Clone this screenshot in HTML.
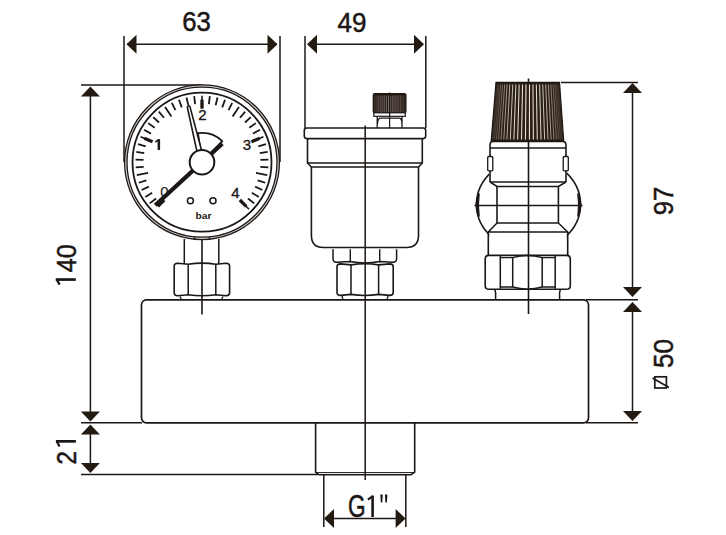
<!DOCTYPE html><html><head><meta charset="utf-8"><style>html,body{margin:0;padding:0;background:#fff;width:726px;height:535px;overflow:hidden}svg{display:block}</style></head><body><svg width="726" height="535" viewBox="0 0 726 535"><rect width="726" height="535" fill="#fff"/><line x1="124" y1="36" x2="124" y2="162" stroke="#1c1714" stroke-width="1.5"/><line x1="280" y1="36" x2="280" y2="162" stroke="#1c1714" stroke-width="1.5"/><line x1="127" y1="44.3" x2="277" y2="44.3" stroke="#1c1714" stroke-width="1.5"/><polygon points="126.5,44.3 136.5,34.8 136.5,53.8" fill="#231a12"/><polygon points="277.5,44.3 267.5,34.8 267.5,53.8" fill="#231a12"/><line x1="305" y1="36" x2="305" y2="128" stroke="#1c1714" stroke-width="1.5"/><line x1="425.8" y1="36" x2="425.8" y2="128" stroke="#1c1714" stroke-width="1.5"/><line x1="308" y1="44.3" x2="423" y2="44.3" stroke="#1c1714" stroke-width="1.5"/><polygon points="307.0,44.3 317.0,34.8 317.0,53.8" fill="#231a12"/><polygon points="424.0,44.3 414.0,34.8 414.0,53.8" fill="#231a12"/><line x1="81" y1="85" x2="202" y2="85" stroke="#1c1714" stroke-width="1.5"/><line x1="90.4" y1="90" x2="90.4" y2="418" stroke="#1c1714" stroke-width="1.5"/><polygon points="90.4,86.5 80.9,96.5 99.9,96.5" fill="#231a12"/><polygon points="90.4,421.5 80.9,411.5 99.9,411.5" fill="#231a12"/><line x1="81" y1="422.8" x2="142" y2="422.8" stroke="#1c1714" stroke-width="1.5"/><line x1="81" y1="474.6" x2="318" y2="474.6" stroke="#1c1714" stroke-width="1.5"/><line x1="90.4" y1="430" x2="90.4" y2="468" stroke="#1c1714" stroke-width="1.5"/><polygon points="90.4,424.5 80.9,434.5 99.9,434.5" fill="#231a12"/><polygon points="90.4,473.0 80.9,463.0 99.9,463.0" fill="#231a12"/><line x1="561" y1="82.5" x2="638" y2="82.5" stroke="#1c1714" stroke-width="1.5"/><line x1="632.5" y1="88" x2="632.5" y2="292" stroke="#1c1714" stroke-width="1.5"/><polygon points="632.5,83.0 623.0,93.0 642.0,93.0" fill="#231a12"/><polygon points="632.5,297.0 623.0,287.0 642.0,287.0" fill="#231a12"/><line x1="586" y1="299.7" x2="638" y2="299.7" stroke="#1c1714" stroke-width="1.5"/><line x1="586" y1="422.8" x2="638" y2="422.8" stroke="#1c1714" stroke-width="1.5"/><line x1="632.5" y1="306" x2="632.5" y2="416" stroke="#1c1714" stroke-width="1.5"/><polygon points="632.5,302.0 623.0,312.0 642.0,312.0" fill="#231a12"/><polygon points="632.5,421.0 623.0,411.0 642.0,411.0" fill="#231a12"/><line x1="323.8" y1="475" x2="323.8" y2="527" stroke="#1c1714" stroke-width="1.5"/><line x1="405.8" y1="475" x2="405.8" y2="527" stroke="#1c1714" stroke-width="1.5"/><line x1="330" y1="518.6" x2="400" y2="518.6" stroke="#1c1714" stroke-width="1.5"/><polygon points="324.0,518.6 334.0,509.1 334.0,528.1" fill="#231a12"/><polygon points="405.6,518.6 395.6,509.1 395.6,528.1" fill="#231a12"/><rect x="141.5" y="299.8" width="447" height="123" rx="5" fill="none" stroke="#1c1714" stroke-width="1.7"/><path d="M315.6,422.8 V472 L319,474.8 H411 L414.7,472 V422.8" fill="none" stroke="#1c1714" stroke-width="1.6"/><line x1="316" y1="472.6" x2="414" y2="472.6" stroke="#1c1714" stroke-width="1.0"/><circle cx="202" cy="162.2" r="76.2" fill="none" stroke="#d8d4d0" stroke-width="2.2"/><circle cx="202" cy="162.2" r="77.4" fill="none" stroke="#1c1714" stroke-width="1.3"/><circle cx="202" cy="162.2" r="75.0" fill="none" stroke="#1c1714" stroke-width="1.3"/><circle cx="202" cy="162.2" r="69.5" fill="#fff" stroke="#1c1714" stroke-width="1.8"/><line x1="157.81" y1="206.39" x2="164.17" y2="200.03" stroke="#1c1714" stroke-width="3.3"/><line x1="149.78" y1="203.37" x2="156.06" y2="198.42" stroke="#1c1714" stroke-width="1.8"/><line x1="145.30" y1="196.95" x2="152.12" y2="192.77" stroke="#1c1714" stroke-width="1.8"/><line x1="141.61" y1="190.04" x2="148.87" y2="186.69" stroke="#1c1714" stroke-width="1.8"/><line x1="138.75" y1="182.75" x2="146.36" y2="180.28" stroke="#1c1714" stroke-width="1.8"/><line x1="136.78" y1="175.17" x2="148.06" y2="172.93" stroke="#1c1714" stroke-width="1.8"/><line x1="135.70" y1="167.42" x2="143.68" y2="166.79" stroke="#1c1714" stroke-width="1.8"/><line x1="135.55" y1="159.59" x2="143.55" y2="159.90" stroke="#1c1714" stroke-width="1.8"/><line x1="136.32" y1="151.80" x2="144.22" y2="153.05" stroke="#1c1714" stroke-width="1.8"/><line x1="138.00" y1="144.15" x2="145.70" y2="146.32" stroke="#1c1714" stroke-width="1.8"/><line x1="140.56" y1="136.75" x2="146.57" y2="139.24" stroke="#1c1714" stroke-width="1.6"/><line x1="144.26" y1="138.28" x2="152.57" y2="141.73" stroke="#1c1714" stroke-width="3.3"/><line x1="143.98" y1="129.71" x2="150.96" y2="133.62" stroke="#1c1714" stroke-width="1.8"/><line x1="148.20" y1="123.11" x2="154.67" y2="127.81" stroke="#1c1714" stroke-width="1.8"/><line x1="153.17" y1="117.06" x2="159.04" y2="122.49" stroke="#1c1714" stroke-width="1.8"/><line x1="158.81" y1="111.63" x2="164.01" y2="117.72" stroke="#1c1714" stroke-width="1.8"/><line x1="165.05" y1="106.91" x2="171.44" y2="116.47" stroke="#1c1714" stroke-width="1.8"/><line x1="171.81" y1="102.95" x2="175.44" y2="110.08" stroke="#1c1714" stroke-width="1.8"/><line x1="178.98" y1="99.81" x2="181.75" y2="107.32" stroke="#1c1714" stroke-width="1.8"/><line x1="186.48" y1="97.54" x2="188.34" y2="105.32" stroke="#1c1714" stroke-width="1.8"/><line x1="194.18" y1="96.16" x2="195.12" y2="104.11" stroke="#1c1714" stroke-width="1.8"/><line x1="202.00" y1="95.70" x2="202.00" y2="102.20" stroke="#1c1714" stroke-width="1.6"/><line x1="202.00" y1="99.70" x2="202.00" y2="108.70" stroke="#1c1714" stroke-width="3.3"/><line x1="209.82" y1="96.16" x2="208.88" y2="104.11" stroke="#1c1714" stroke-width="1.8"/><line x1="217.52" y1="97.54" x2="215.66" y2="105.32" stroke="#1c1714" stroke-width="1.8"/><line x1="225.02" y1="99.81" x2="222.25" y2="107.32" stroke="#1c1714" stroke-width="1.8"/><line x1="232.19" y1="102.95" x2="228.56" y2="110.08" stroke="#1c1714" stroke-width="1.8"/><line x1="238.95" y1="106.91" x2="232.56" y2="116.47" stroke="#1c1714" stroke-width="1.8"/><line x1="245.19" y1="111.63" x2="239.99" y2="117.72" stroke="#1c1714" stroke-width="1.8"/><line x1="250.83" y1="117.06" x2="244.96" y2="122.49" stroke="#1c1714" stroke-width="1.8"/><line x1="255.80" y1="123.11" x2="249.33" y2="127.81" stroke="#1c1714" stroke-width="1.8"/><line x1="260.02" y1="129.71" x2="253.04" y2="133.62" stroke="#1c1714" stroke-width="1.8"/><line x1="263.44" y1="136.75" x2="257.43" y2="139.24" stroke="#1c1714" stroke-width="1.6"/><line x1="259.74" y1="138.28" x2="251.43" y2="141.73" stroke="#1c1714" stroke-width="3.3"/><line x1="266.00" y1="144.15" x2="258.30" y2="146.32" stroke="#1c1714" stroke-width="1.8"/><line x1="267.68" y1="151.80" x2="259.78" y2="153.05" stroke="#1c1714" stroke-width="1.8"/><line x1="268.45" y1="159.59" x2="260.45" y2="159.90" stroke="#1c1714" stroke-width="1.8"/><line x1="268.30" y1="167.42" x2="260.32" y2="166.79" stroke="#1c1714" stroke-width="1.8"/><line x1="267.22" y1="175.17" x2="255.94" y2="172.93" stroke="#1c1714" stroke-width="1.8"/><line x1="265.25" y1="182.75" x2="257.64" y2="180.28" stroke="#1c1714" stroke-width="1.8"/><line x1="262.39" y1="190.04" x2="255.13" y2="186.69" stroke="#1c1714" stroke-width="1.8"/><line x1="258.70" y1="196.95" x2="251.88" y2="192.77" stroke="#1c1714" stroke-width="1.8"/><line x1="254.22" y1="203.37" x2="247.94" y2="198.42" stroke="#1c1714" stroke-width="1.8"/><line x1="249.02" y1="209.22" x2="244.43" y2="204.63" stroke="#1c1714" stroke-width="1.6"/><line x1="246.19" y1="206.39" x2="239.83" y2="200.03" stroke="#1c1714" stroke-width="3.3"/><path d="M157.6,139.2 H160.1 V149.9 H157.6 Z" fill="#1c1714"/><path d="M158.8,139.8 L155.3,142" stroke="#1c1714" stroke-width="1.6"/><text x="164.5" y="197" font-size="15" text-anchor="middle" fill="#1c1714" stroke="#1c1714" stroke-width="0.1" font-family="Liberation Sans, sans-serif">0</text><text x="202.5" y="120.1" font-size="15" text-anchor="middle" fill="#1c1714" stroke="#1c1714" stroke-width="0.35" font-family="Liberation Sans, sans-serif">2</text><text x="246.8" y="149.8" font-size="15" text-anchor="middle" fill="#1c1714" stroke="#1c1714" stroke-width="0.35" font-family="Liberation Sans, sans-serif">3</text><text x="235.5" y="197.5" font-size="15" text-anchor="middle" fill="#1c1714" stroke="#1c1714" stroke-width="0.35" font-family="Liberation Sans, sans-serif">4</text><g transform="translate(203.5,218.8) scale(1.08,1)"><text x="0" y="0" font-size="9.5" font-weight="bold" text-anchor="middle" fill="#1c1714" font-family="Liberation Sans, sans-serif">bar</text></g><path d="M194.7,236.8 V239.2 M209.3,236.8 V239.2" stroke="#1c1714" stroke-width="1.1"/><circle cx="190.4" cy="200.8" r="3" fill="none" stroke="#1c1714" stroke-width="1.5"/><circle cx="213" cy="200.8" r="3" fill="none" stroke="#1c1714" stroke-width="1.5"/><path d="M202,162.2 L198.02,133.17 A29.3,29.3 0 0 1 222.28,141.05 Z" fill="#fff" stroke="#1c1714" stroke-width="1.8" stroke-linejoin="round"/><line x1="222.24" y1="143.59" x2="155.26" y2="205.18" stroke="#1c1714" stroke-width="4.2"/><path d="M197.20,152.56 L187.39,107.52 A1.35,1.35 0 0 1 190.01,106.88 L201.86,151.44 Z" fill="#fff" stroke="#1c1714" stroke-width="1.6"/><circle cx="202" cy="162.2" r="12.3" fill="#fff" stroke="#1c1714" stroke-width="2"/><line x1="184.3" y1="239" x2="184.3" y2="264" stroke="#1c1714" stroke-width="1.5"/><line x1="218.8" y1="239" x2="218.8" y2="264" stroke="#1c1714" stroke-width="1.5"/><path d="M174.2,266.1 Q174.2,263.20000000000005 177.7,263.20000000000005 L188.2,264.20000000000005 Q202.0,262.00000000000006 215.8,264.20000000000005 L226.1,263.20000000000005 Q229.6,263.20000000000005 229.6,266.1 V292.8 Q229.6,295.7 226.1,295.7 L215.8,294.7 Q202.0,296.9 188.2,294.7 L177.7,295.7 Q174.2,295.7 174.2,292.8 Z" fill="#fff" stroke="#1c1714" stroke-width="1.6"/><path d="M188.2,264.20000000000005 V294.7 M215.8,264.20000000000005 V294.7" stroke="#1c1714" stroke-width="1.5"/><path d="M180,296.5 L181.5,299.7 M223,296.5 L221.5,299.7" stroke="#1c1714" stroke-width="1.3"/><line x1="202" y1="239" x2="202" y2="314.5" stroke="#1c1714" stroke-width="1.6"/><rect x="373.3" y="93.7" width="32.6" height="19.3" rx="1.5" fill="#261b14" stroke="#1c1714" stroke-width="1.3"/><line x1="374.14" y1="95.5" x2="374.14" y2="112" stroke="#e8e0d8" stroke-opacity="0.14" stroke-width="0.15"/><line x1="374.45" y1="95.5" x2="374.45" y2="112" stroke="#e8e0d8" stroke-opacity="0.22" stroke-width="0.15"/><line x1="375.08" y1="95.5" x2="375.08" y2="112" stroke="#e8e0d8" stroke-opacity="0.29" stroke-width="0.24"/><line x1="376.00" y1="95.5" x2="376.00" y2="112" stroke="#e8e0d8" stroke-opacity="0.36" stroke-width="0.34"/><line x1="377.19" y1="95.5" x2="377.19" y2="112" stroke="#e8e0d8" stroke-opacity="0.43" stroke-width="0.42"/><line x1="378.64" y1="95.5" x2="378.64" y2="112" stroke="#e8e0d8" stroke-opacity="0.49" stroke-width="0.49"/><line x1="380.31" y1="95.5" x2="380.31" y2="112" stroke="#e8e0d8" stroke-opacity="0.54" stroke-width="0.56"/><line x1="382.17" y1="95.5" x2="382.17" y2="112" stroke="#e8e0d8" stroke-opacity="0.58" stroke-width="0.61"/><line x1="384.18" y1="95.5" x2="384.18" y2="112" stroke="#e8e0d8" stroke-opacity="0.62" stroke-width="0.66"/><line x1="386.31" y1="95.5" x2="386.31" y2="112" stroke="#e8e0d8" stroke-opacity="0.64" stroke-width="0.68"/><line x1="388.49" y1="95.5" x2="388.49" y2="112" stroke="#e8e0d8" stroke-opacity="0.65" stroke-width="0.70"/><line x1="390.71" y1="95.5" x2="390.71" y2="112" stroke="#e8e0d8" stroke-opacity="0.65" stroke-width="0.70"/><line x1="392.89" y1="95.5" x2="392.89" y2="112" stroke="#e8e0d8" stroke-opacity="0.64" stroke-width="0.68"/><line x1="395.02" y1="95.5" x2="395.02" y2="112" stroke="#e8e0d8" stroke-opacity="0.62" stroke-width="0.66"/><line x1="397.03" y1="95.5" x2="397.03" y2="112" stroke="#e8e0d8" stroke-opacity="0.58" stroke-width="0.61"/><line x1="398.89" y1="95.5" x2="398.89" y2="112" stroke="#e8e0d8" stroke-opacity="0.54" stroke-width="0.56"/><line x1="400.56" y1="95.5" x2="400.56" y2="112" stroke="#e8e0d8" stroke-opacity="0.49" stroke-width="0.49"/><line x1="402.01" y1="95.5" x2="402.01" y2="112" stroke="#e8e0d8" stroke-opacity="0.43" stroke-width="0.42"/><line x1="403.20" y1="95.5" x2="403.20" y2="112" stroke="#e8e0d8" stroke-opacity="0.36" stroke-width="0.34"/><line x1="404.12" y1="95.5" x2="404.12" y2="112" stroke="#e8e0d8" stroke-opacity="0.29" stroke-width="0.24"/><line x1="404.75" y1="95.5" x2="404.75" y2="112" stroke="#e8e0d8" stroke-opacity="0.22" stroke-width="0.15"/><line x1="405.06" y1="95.5" x2="405.06" y2="112" stroke="#e8e0d8" stroke-opacity="0.14" stroke-width="0.15"/><rect x="373.9" y="112.8" width="31.4" height="3.5" fill="#fff" stroke="#1c1714" stroke-width="1.2"/><path d="M377.2,116.3 V128 M402,116.3 V128 M377.4,124 Q378,118.5 380,118.2 H399.5 Q401.8,118.5 402,124" fill="none" stroke="#1c1714" stroke-width="1.3"/><line x1="389.6" y1="92.4" x2="389.6" y2="130" stroke="#1c1714" stroke-width="1.2"/><rect x="304.3" y="128" width="121.4" height="10.6" rx="2.5" fill="#fff" stroke="#1c1714" stroke-width="1.6"/><path d="M307.5,138.6 V163 H422.3 V138.6" fill="none" stroke="#1c1714" stroke-width="1.6"/><path d="M307.5,163 L311.4,167 H418.5 L422.3,163" fill="none" stroke="#1c1714" stroke-width="1.5"/><path d="M311.4,167 V235.5 Q311.4,247.5 323.4,247.5 H406.5 Q418.5,247.5 418.5,235.5 V167" fill="none" stroke="#1c1714" stroke-width="1.6"/><path d="M333,249.2 V258.8 Q333,262.2 336.5,262.2 L350.3,261.6 Q365,264.6 379.7,261.6 L393.1,262.2 Q396.6,262.2 396.6,258.8 V249.2" fill="none" stroke="#1c1714" stroke-width="1.5"/><path d="M350.3,249.2 V262.4 M379.7,249.2 V262.4" stroke="#1c1714" stroke-width="1.4"/><path d="M337,266.8 Q337,263.90000000000003 340.5,263.90000000000003 L351,264.90000000000003 Q364.8,262.70000000000005 378.6,264.90000000000003 L389.7,263.90000000000003 Q393.2,263.90000000000003 393.2,266.8 V292.5 Q393.2,295.4 389.7,295.4 L378.6,294.4 Q364.8,296.59999999999997 351,294.4 L340.5,295.4 Q337,295.4 337,292.5 Z" fill="#fff" stroke="#1c1714" stroke-width="1.6"/><path d="M351,264.90000000000003 V294.4 M378.6,264.90000000000003 V294.4" stroke="#1c1714" stroke-width="1.5"/><path d="M342,296 L343,299.7 M388,296 L387,299.7" stroke="#1c1714" stroke-width="1.3"/><line x1="365.2" y1="125.5" x2="365.2" y2="480" stroke="#1c1714" stroke-width="1.5"/><ellipse cx="528.5" cy="204.5" rx="52" ry="46" fill="none" stroke="#1c1714" stroke-width="1.6"/><rect x="489.2" y="141" width="77.6" height="115" fill="#fff"/><polygon points="496,82.3 559.5,82.3 563.7,141 491.2,141" fill="#2a1e15" stroke="#1c1714" stroke-width="1.2"/><line x1="496.80" y1="84.5" x2="492.01" y2="139.5" stroke="#f0ebe6" stroke-opacity="0.15" stroke-width="0.20"/><line x1="497.19" y1="84.5" x2="492.45" y2="139.5" stroke="#f0ebe6" stroke-opacity="0.24" stroke-width="0.20"/><line x1="497.96" y1="84.5" x2="493.34" y2="139.5" stroke="#f0ebe6" stroke-opacity="0.34" stroke-width="0.30"/><line x1="499.11" y1="84.5" x2="494.65" y2="139.5" stroke="#f0ebe6" stroke-opacity="0.43" stroke-width="0.42"/><line x1="500.62" y1="84.5" x2="496.38" y2="139.5" stroke="#f0ebe6" stroke-opacity="0.51" stroke-width="0.53"/><line x1="502.47" y1="84.5" x2="498.50" y2="139.5" stroke="#f0ebe6" stroke-opacity="0.59" stroke-width="0.64"/><line x1="504.64" y1="84.5" x2="500.98" y2="139.5" stroke="#f0ebe6" stroke-opacity="0.67" stroke-width="0.73"/><line x1="507.09" y1="84.5" x2="503.79" y2="139.5" stroke="#f0ebe6" stroke-opacity="0.73" stroke-width="0.82"/><line x1="509.81" y1="84.5" x2="506.91" y2="139.5" stroke="#f0ebe6" stroke-opacity="0.79" stroke-width="0.90"/><line x1="512.75" y1="84.5" x2="510.28" y2="139.5" stroke="#f0ebe6" stroke-opacity="0.84" stroke-width="0.96"/><line x1="515.89" y1="84.5" x2="513.86" y2="139.5" stroke="#f0ebe6" stroke-opacity="0.89" stroke-width="1.02"/><line x1="519.17" y1="84.5" x2="517.62" y2="139.5" stroke="#f0ebe6" stroke-opacity="0.92" stroke-width="1.06"/><line x1="522.56" y1="84.5" x2="521.50" y2="139.5" stroke="#f0ebe6" stroke-opacity="0.94" stroke-width="1.08"/><line x1="526.01" y1="84.5" x2="525.46" y2="139.5" stroke="#f0ebe6" stroke-opacity="0.95" stroke-width="1.10"/><line x1="529.49" y1="84.5" x2="529.44" y2="139.5" stroke="#f0ebe6" stroke-opacity="0.95" stroke-width="1.10"/><line x1="532.94" y1="84.5" x2="533.40" y2="139.5" stroke="#f0ebe6" stroke-opacity="0.94" stroke-width="1.08"/><line x1="536.33" y1="84.5" x2="537.28" y2="139.5" stroke="#f0ebe6" stroke-opacity="0.92" stroke-width="1.06"/><line x1="539.61" y1="84.5" x2="541.04" y2="139.5" stroke="#f0ebe6" stroke-opacity="0.89" stroke-width="1.02"/><line x1="542.75" y1="84.5" x2="544.62" y2="139.5" stroke="#f0ebe6" stroke-opacity="0.84" stroke-width="0.96"/><line x1="545.69" y1="84.5" x2="547.99" y2="139.5" stroke="#f0ebe6" stroke-opacity="0.79" stroke-width="0.90"/><line x1="548.41" y1="84.5" x2="551.11" y2="139.5" stroke="#f0ebe6" stroke-opacity="0.73" stroke-width="0.82"/><line x1="550.86" y1="84.5" x2="553.92" y2="139.5" stroke="#f0ebe6" stroke-opacity="0.67" stroke-width="0.73"/><line x1="553.03" y1="84.5" x2="556.40" y2="139.5" stroke="#f0ebe6" stroke-opacity="0.59" stroke-width="0.64"/><line x1="554.88" y1="84.5" x2="558.52" y2="139.5" stroke="#f0ebe6" stroke-opacity="0.51" stroke-width="0.53"/><line x1="556.39" y1="84.5" x2="560.25" y2="139.5" stroke="#f0ebe6" stroke-opacity="0.43" stroke-width="0.42"/><line x1="557.54" y1="84.5" x2="561.56" y2="139.5" stroke="#f0ebe6" stroke-opacity="0.34" stroke-width="0.30"/><line x1="558.31" y1="84.5" x2="562.45" y2="139.5" stroke="#f0ebe6" stroke-opacity="0.24" stroke-width="0.20"/><line x1="558.70" y1="84.5" x2="562.89" y2="139.5" stroke="#f0ebe6" stroke-opacity="0.15" stroke-width="0.20"/><path d="M490,182 V145 Q490,141.5 493,141.5 H563 Q566,141.5 566,145 V182" fill="#fff" stroke="#1c1714" stroke-width="1.6"/><line x1="490" y1="148" x2="566" y2="148" stroke="#1c1714" stroke-width="1.5"/><rect x="487.7" y="156.5" width="5.1" height="14.3" rx="1" fill="#fff" stroke="#1c1714" stroke-width="1.3"/><rect x="563.2" y="156.5" width="5.1" height="14.3" rx="1" fill="#fff" stroke="#1c1714" stroke-width="1.3"/><line x1="490" y1="182" x2="566" y2="182" stroke="#1c1714" stroke-width="1.5"/><path d="M490,182 L497,186.5 H558.4 L566,182" fill="none" stroke="#1c1714" stroke-width="1.5"/><path d="M497,186.5 V223 M558.4,186.5 V223" fill="none" stroke="#1c1714" stroke-width="1.6"/><line x1="497" y1="223" x2="558.4" y2="223" stroke="#1c1714" stroke-width="1.5"/><path d="M497,223 L488.3,232 H567.7 L558.4,223" fill="none" stroke="#1c1714" stroke-width="1.5"/><path d="M488.3,232 V255.8 M567.7,232 V255.8" fill="none" stroke="#1c1714" stroke-width="1.6"/><path d="M479.2,193.5 Q472.8,205 479.2,216.5 Q477.6,205 479.2,193.5 Z" fill="#1c1714" stroke="#1c1714" stroke-width="1.2"/><path d="M577.8,193.5 Q584.2,205 577.8,216.5 Q579.4,205 577.8,193.5 Z" fill="#1c1714" stroke="#1c1714" stroke-width="1.2"/><line x1="474.5" y1="205.6" x2="582.5" y2="205.6" stroke="#1c1714" stroke-width="1.5"/><path d="M485.2,259 Q485.2,255.4 489,255.4 H566.5 Q570.3,255.4 570.3,259 V285.7 Q570.3,289.3 566.5,289.3 H489 Q485.2,289.3 485.2,285.7 Z" fill="#fff" stroke="#1c1714" stroke-width="1.6"/><path d="M500.3,256 V288.7 M555.2,256 V288.7 M512.7,257.6 V287 M542.2,257.6 V287" stroke="#1c1714" stroke-width="1.5"/><path d="M500.3,257.6 H512.7 Q527.5,253.5 542.2,257.6 H555.2 M500.3,287 H512.7 Q527.5,291.2 542.2,287 H555.2" fill="none" stroke="#1c1714" stroke-width="1.4"/><path d="M494.6,289.3 Q496,292 495.6,295 V299.7 M560.6,289.3 Q559.2,292 559.6,295 V299.7" fill="none" stroke="#1c1714" stroke-width="1.5"/><line x1="528.5" y1="78.5" x2="528.5" y2="84" stroke="#1c1714" stroke-width="1.6"/><line x1="528.5" y1="141" x2="528.5" y2="314" stroke="#1c1714" stroke-width="1.6"/><text x="0" y="0" font-size="28" text-anchor="middle" fill="#1c1714" stroke="#1c1714" stroke-width="0.5" font-family="Liberation Sans, sans-serif" transform="translate(196.5,31.3) scale(0.92,1)">63</text><text x="0" y="0" font-size="28" text-anchor="middle" fill="#1c1714" stroke="#1c1714" stroke-width="0.5" font-family="Liberation Sans, sans-serif" transform="translate(352,31.5) scale(0.93,1)">49</text><g transform="translate(76.1,264.5) rotate(-90) translate(6.2,0) scale(0.9,1)"><text x="0" y="0" text-anchor="middle" font-size="28" fill="#1c1714" stroke="#1c1714" stroke-width="0.5" font-family="Liberation Sans, sans-serif">40</text></g><path d="M55.8,278.2 H75.8 V280.9 H55.8 Z" fill="#1c1714"/><path d="M56.6,279.2 L59.6,284.6" stroke="#1c1714" stroke-width="2.3"/><g transform="translate(76,451.5) rotate(-90) translate(-6.4,0) scale(0.86,1)"><text x="0" y="0" text-anchor="middle" font-size="28" fill="#1c1714" stroke="#1c1714" stroke-width="0.5" font-family="Liberation Sans, sans-serif">2</text></g><path d="M55.9,440 H75.9 V442.7 H55.9 Z" fill="#1c1714"/><path d="M56.7,441 L59.5,446.6" stroke="#1c1714" stroke-width="2.3"/><text x="0" y="0" font-size="28" text-anchor="middle" fill="#1c1714" stroke="#1c1714" stroke-width="0.5" font-family="Liberation Sans, sans-serif" transform="translate(672.5,201) rotate(-90) scale(0.92,1)">97</text><text x="0" y="0" font-size="28" text-anchor="middle" fill="#1c1714" stroke="#1c1714" stroke-width="0.5" font-family="Liberation Sans, sans-serif" transform="translate(673,353.5) rotate(-90) scale(0.93,1)">50</text><rect x="654.8" y="376.8" width="11.6" height="11.2" fill="none" stroke="#1c1714" stroke-width="1.7"/><line x1="652.5" y1="378" x2="669" y2="387.5" stroke="#1c1714" stroke-width="1.6"/><g transform="translate(348,517) scale(0.72,1)"><text x="0" y="0" font-size="31.5" fill="#1c1714" stroke="#1c1714" stroke-width="0.5" font-family="Liberation Sans, sans-serif">G</text></g><path d="M371.3,495.5 H373.9 V517 H371.3 Z" fill="#1c1714"/><path d="M372.5,496.3 L367.9,499.6" stroke="#1c1714" stroke-width="2.2"/><path d="M380.3,494.5 H382.8 L382.3,502.4 H380.8 Z M384.9,494.5 H387.4 L386.9,502.4 H385.4 Z" fill="#1c1714"/></svg></body></html>
